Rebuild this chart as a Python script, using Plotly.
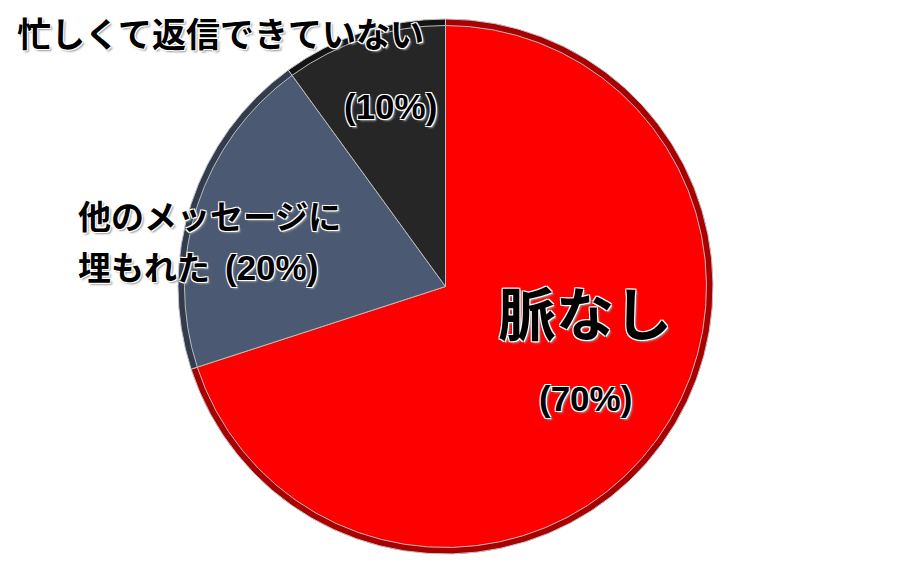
import plotly.graph_objects as go

labels = ["脈なし", "他のメッセージに埋もれた", "忙しくて返信できていない"]
values = [70, 20, 10]
colors = ["#FF0000", "#4B5A72", "#262626"]
rim_colors = ["#A80000", "#323C4D", "#141414"]

shadow = "-1px -1px 0 #fff, 1px -1px 0 #fff, -1px 1px 0 #fff, 1px 1px 0 #fff, 2px 2px 2px #999"
JP = "Noto Sans CJK JP"
LAT = "Liberation Sans"

W, H = 900, 578
OFF = 8  # page body margin

def dom(x0, x1, y0, y1):
    return dict(x=[(x0 - OFF) / W, (x1 - OFF) / W],
                y=[1 - (y1 - OFF) / H, 1 - (y0 - OFF) / H])

fig = go.Figure()
fig.add_trace(go.Pie(
    labels=labels, values=values, sort=False, direction="clockwise", rotation=0,
    marker=dict(colors=rim_colors, line=dict(color="#c4c4c4", width=1)),
    textinfo="none", hoverinfo="skip", showlegend=False,
    domain=dom(178, 713, 19, 554),
))
fig.add_trace(go.Pie(
    labels=labels, values=values, sort=False, direction="clockwise", rotation=0,
    marker=dict(colors=colors, line=dict(color="#bcbcbc", width=1)),
    textinfo="none", hoverinfo="label+percent", showlegend=False,
    domain=dom(184.5, 706.5, 25.5, 547.5),
))

pct = [f"({v}%)" for v in values]

def ann(text, x, y, size, family, xanchor="center"):
    fig.add_annotation(text=text, x=(x - OFF) / W, y=1 - (y - OFF) / H,
                       xref="paper", yref="paper",
                       xanchor=xanchor, yanchor="middle", showarrow=False,
                       font=dict(family=family, size=size, color="#000",
                                 weight="bold", shadow=shadow))

ann(labels[0], 585, 311, 58, JP)
ann(pct[0], 585, 398, 35, LAT)
ann(labels[2], 15, 33, 34, JP, "left")
ann(pct[2], 390, 107, 35, LAT)
ann(labels[1][:8], 76, 215, 33, JP, "left")
ann(labels[1][8:] + f"&nbsp; <span style='font-family:{LAT};font-size:35px'>{pct[1]}</span>",
    76, 266, 33, JP, "left")

fig.update_layout(width=W, height=H, margin=dict(l=0, r=0, t=0, b=0),
                  paper_bgcolor="white", plot_bgcolor="white")
fig.write_html("out.html")
